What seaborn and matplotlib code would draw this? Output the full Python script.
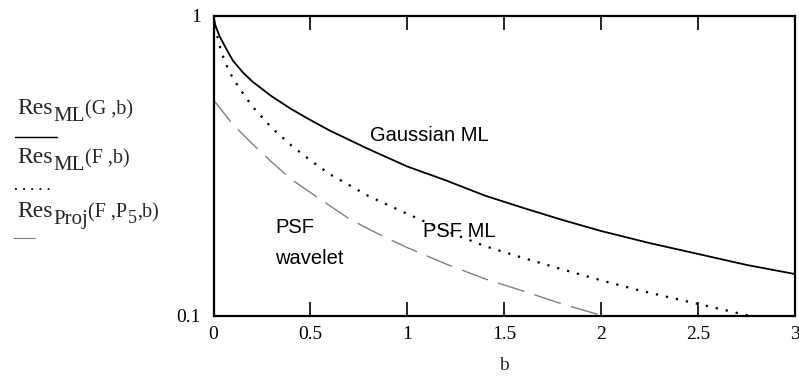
import numpy as np
import pandas as pd
import matplotlib
matplotlib.use("Agg")
import matplotlib.pyplot as plt
from matplotlib.lines import Line2D
from matplotlib.ticker import FixedLocator, FixedFormatter, NullLocator
import seaborn as sns

# ---- data ----
b_gauss = [0, 0.01, 0.03, 0.06, 0.1, 0.15, 0.2, 0.3, 0.4, 0.5, 0.6, 0.8, 1.0, 1.2, 1.4, 1.6, 1.8, 2.0, 2.25, 2.5, 2.75, 3.0]
res_gauss = [1.0, 0.93, 0.86, 0.79, 0.71, 0.65, 0.605, 0.54, 0.49, 0.45, 0.415, 0.36, 0.315, 0.283, 0.252, 0.229,
             0.209, 0.192, 0.175, 0.161, 0.148, 0.138]

b_psf = [0, 0.01, 0.03, 0.06, 0.1, 0.15, 0.2, 0.3, 0.4, 0.5, 0.6, 0.8, 1.0, 1.2, 1.4, 1.6, 1.8, 2.0, 2.2, 2.4, 2.6, 2.8]
res_psf = [1.0, 0.91, 0.80, 0.70, 0.62, 0.555, 0.50, 0.424, 0.371, 0.33, 0.297, 0.251, 0.219, 0.192, 0.171, 0.156,
           0.143, 0.1315, 0.1216, 0.1135, 0.106, 0.099]

b_wav = [0, 0.1, 0.2, 0.3, 0.4, 0.5, 0.6, 0.7, 0.8, 0.9, 1.0, 1.2, 1.4, 1.6, 1.8, 2.0, 2.1]
res_wav = [0.525, 0.435, 0.375, 0.326, 0.286, 0.258, 0.233, 0.211, 0.195, 0.181, 0.169, 0.149, 0.133, 0.121,
           0.1096, 0.1005, 0.096]

x_ticks = [0, 0.5, 1, 1.5, 2, 2.5, 3]
x_tick_labels = ["0", "0.5", "1", "1.5", "2", "2.5", "3"]
y_ticks = [0.1, 1]
y_tick_labels = ["0.1", "1"]

# legend labels as (text, size, lowered-by-px) pieces
legend_labels = [
    [("Res", 17, 0), ("ML", 15, 7), ("(G ,b)", 14.5, 0)],
    [("Res", 17, 0), ("ML", 15, 7), ("(F ,b)", 14.5, 0)],
    [("Res", 17, 0), ("Proj", 15, 7), ("(F ,P", 14.5, 0), ("5", 13, 6), (",b)", 14.5, 0)],
]

# ---- style ----
sns.set_style("white")
plt.rcParams["font.family"] = ["Liberation Serif", "DejaVu Serif"]

W, H = 799, 377
fig = plt.figure(figsize=(W / 100, H / 100), dpi=100)
L, R, T, B = 213.5, 795, 16, 316
ax = fig.add_axes([L / W, 1 - B / H, (R - L) / W, (B - T) / H])

df_g = pd.DataFrame({"b": b_gauss, "res": res_gauss})
df_p = pd.DataFrame({"b": b_psf, "res": res_psf})
df_w = pd.DataFrame({"b": b_wav, "res": res_wav})

solid_style = dict(color="black", lw=1.3, ls="-")
dot_style = dict(color="black", lw=1.6, ls=(0, (1, 3.6)))
dash_style = dict(color="#808080", lw=1.0, ls=(0, (20, 7.5)))

sns.lineplot(data=df_g, x="b", y="res", ax=ax, estimator=None, sort=False, **solid_style)
sns.lineplot(data=df_p, x="b", y="res", ax=ax, estimator=None, sort=False, **dot_style)
sns.lineplot(data=df_w, x="b", y="res", ax=ax, estimator=None, sort=False, **dash_style)

ax.set_yscale("log")
ax.set_xlim(0, 3)
ax.set_ylim(0.1, 1)

ax.xaxis.set_major_locator(FixedLocator(x_ticks))
ax.xaxis.set_major_formatter(FixedFormatter(x_tick_labels))
ax.xaxis.set_minor_locator(NullLocator())
ax.yaxis.set_major_locator(FixedLocator(y_ticks))
ax.yaxis.set_major_formatter(FixedFormatter(y_tick_labels))
ax.yaxis.set_minor_locator(NullLocator())

ax.tick_params(axis="x", which="major", direction="in", length=10, width=1.2,
               top=True, bottom=True, labelsize=14, pad=7, colors="black")
ax.tick_params(axis="y", which="major", length=0, labelsize=14, pad=9, colors="black")
for s in ax.spines.values():
    s.set_visible(True)
    s.set_color("black")
    s.set_linewidth(1.6)

ax.set_xlabel("b", fontsize=14, labelpad=10)
ax.set_ylabel("")

# annotations (sans-serif)
ann_kw = dict(family=["Liberation Sans", "DejaVu Sans"], fontsize=14.5, color="black")
ax.text(0.807, 0.401, "Gaussian ML", va="center", ha="left", **ann_kw)
ax.text(1.08, 0.192, "PSF ML", va="center", ha="left", **ann_kw)
ax.text(0.317, 0.198, "PSF", va="center", ha="left", **ann_kw)
ax.text(0.317, 0.156, "wavelet", va="center", ha="left", **ann_kw)

# legend on the left (MathCad style)
def fx(px):
    return px / W

def fy(py):
    return 1 - py / H

renderer = fig.canvas.get_renderer()
text_base = [114, 163, 217]
line_y = [137, 189, 238]
line_x = [(15, 57), (15, 50), (13, 43)]
styles = [solid_style, dot_style, dash_style]
for pieces, ty, ly, (x0, x1), st in zip(legend_labels, text_base, line_y, line_x, styles):
    xpos = 17.0
    for txt, size, dy in pieces:
        t = fig.text(fx(xpos), fy(ty + dy), txt, fontsize=size, va="baseline", ha="left")
        bb = t.get_window_extent(renderer)
        xpos = bb.x1 + 0.5
    fig.add_artist(Line2D([fx(x0), fx(x1)], [fy(ly), fy(ly)], transform=fig.transFigure,
                          color=st["color"], lw=st["lw"] * 0.8, ls=st["ls"]))

fig.savefig("out.png", dpi=100)
